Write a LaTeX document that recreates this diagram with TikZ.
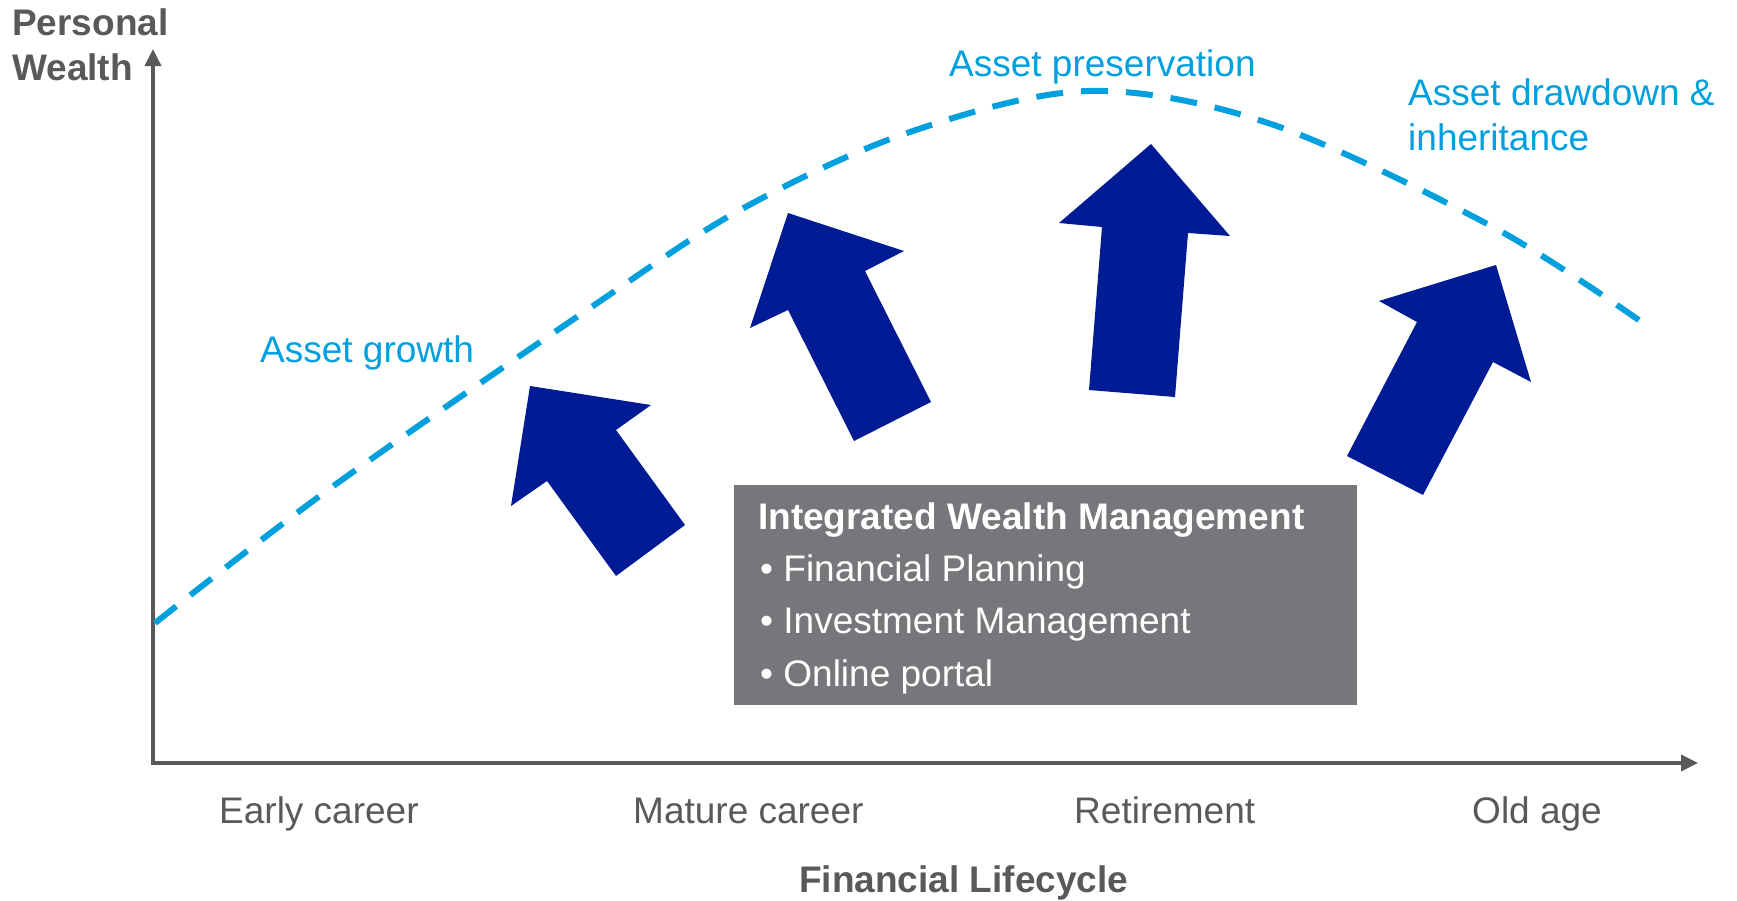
\documentclass[tikz,border=0pt]{standalone}
\usepackage{fontspec}
\setmainfont{Liberation Sans}
\usetikzlibrary{arrows.meta}
\definecolor{axisgrey}{HTML}{58595B}
\definecolor{curveblue}{HTML}{00A0DF}
\definecolor{arrownavy}{HTML}{001B94}
\definecolor{boxgrey}{HTML}{76777A}
\newcommand{\slidefont}{\fontsize{37}{44}\selectfont}
\tikzstyle{axis}=[draw=axisgrey,line width=3.5pt,
                  {Triangle[length=17pt,width=16pt]}-{Triangle[length=17pt,width=16pt]}]
\tikzstyle{lifecurve}=[draw=curveblue,line width=6pt,
                       dash pattern=on 27pt off 18pt]
\tikzstyle{bigarrow}=[fill=arrownavy]
\tikzstyle{phase}=[anchor=base west,inner sep=0pt,text=curveblue,font=\slidefont]
\tikzstyle{stage}=[anchor=base west,inner sep=0pt,text=axisgrey,font=\slidefont]
\tikzstyle{axisname}=[anchor=base west,inner sep=0pt,text=axisgrey,
                      font=\slidefont\bfseries]
\tikzstyle{servicebox}=[anchor=north west,fill=boxgrey,inner sep=0pt,
                        minimum width=623pt,minimum height=220pt]
\tikzstyle{boxline}=[anchor=base west,inner sep=0pt,text=white,font=\slidefont]

\begin{document}
\begin{tikzpicture}[x=1pt,y=-1pt]
    \useasboundingbox (0,0) rectangle (1737,900);

    % axes
    \coordinate (ytop) at (153,49);
    \coordinate (orig) at (153,763);
    \coordinate (xend) at (1698,763);
    \draw[axis] (ytop) -- (orig) -- (xend);
    \node (wealth1) at (12,35) [axisname]{Personal};
    \node (wealth2) at (12,80) [axisname]{Wealth};
    \node (cycle) at (799,892) [axisname]{Financial Lifecycle};

    \node (early)   at (219,823)  [stage]{Early career};
    \node (mature)  at (633,823)  [stage]{Mature career};
    \node (retire)  at (1074,823) [stage]{Retirement};
    \node (oldage)  at (1472,823) [stage]{Old age};

    % wealth curve
    \draw[lifecurve] plot[smooth,tension=0.55] coordinates {
      (155,623) (332,487) (590,308) (740,210) (907,133) (1088,91)
      (1271,124) (1493,227) (1643,323)};
    \node (growth)   at (260,362)  [phase]{Asset growth};
    \node (preserve) at (949,76)   [phase]{Asset preservation};
    \node (drawdn1)  at (1408,105) [phase]{Asset drawdown \&};
    \node (drawdn2)  at (1408,150) [phase]{inheritance};

    % block arrows
    \fill[bigarrow] (530,386) -- (651,405) -- (616,430) -- (685,525)
      -- (616,576) -- (547,481) -- (511,506) -- cycle;
    \fill[bigarrow] (788,213) -- (904,251) -- (865,271) -- (931,402)
      -- (854,441) -- (788,310) -- (750,328) -- cycle;
    \fill[bigarrow] (1151,144) -- (1230,236) -- (1188,233) -- (1175,397)
      -- (1089,390) -- (1102,227) -- (1059,223) -- cycle;
    \fill[bigarrow] (1496,265) -- (1531,382) -- (1493,362) -- (1423,495)
      -- (1347,456) -- (1417,322) -- (1379,301) -- cycle;

    % services box
    \node (iwm) at (734,485) [servicebox]{};
    \node (iwmtitle) at (758,529) [boxline,font=\slidefont\bfseries]{Integrated Wealth Management};
    \node (plan)   at (760,581) [boxline]{\textbullet{} Financial Planning};
    \node (invest) at (760,633) [boxline]{\textbullet{} Investment Management};
    \node (portal) at (760,686) [boxline]{\textbullet{} Online portal};
  \end{tikzpicture}
\end{document}
